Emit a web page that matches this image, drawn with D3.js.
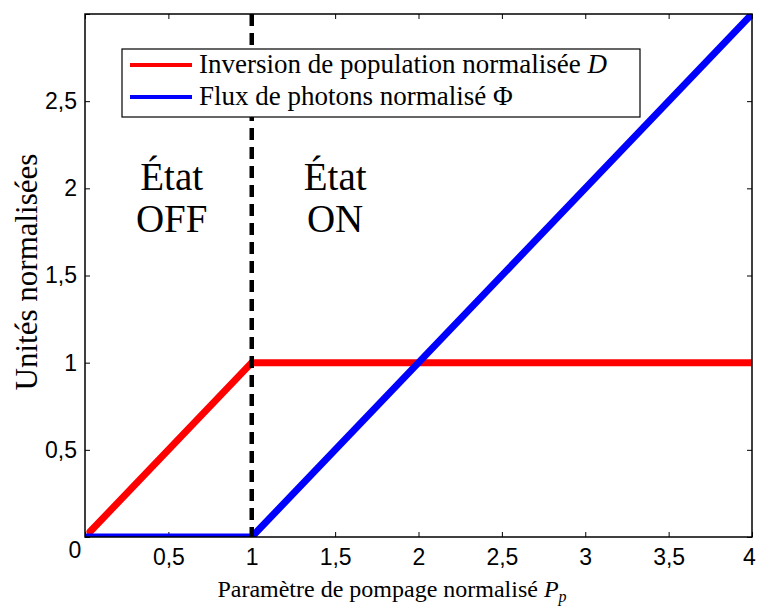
<!DOCTYPE html>
<html>
<head>
<meta charset="utf-8">
<script src="https://cdn.jsdelivr.net/npm/d3@7"></script>
<style>
  body { margin: 0; background: #fff; }
  text { font-family: "Liberation Serif", serif; }
  .tick text { font-family: "Liberation Sans", Arial, sans-serif; font-size: 23px; fill: #000; }
</style>
</head>
<body>
<svg id="chart" width="757" height="606"></svg>
<script>
// data
var pumpX = [0.03, 1, 4];
var inversionD = [0.03, 1, 1];
var fluxX = [0, 1, 4];
var fluxPhi = [0, 0, 3];
var xTicks = [0, 0.5, 1, 1.5, 2, 2.5, 3, 3.5, 4];
var yTicks = [0, 0.5, 1, 1.5, 2, 2.5, 3];
var threshold = 1;

var margin = { left: 85, top: 14, right: 5, bottom: 69 };
var width = 757 - margin.left - margin.right;
var height = 606 - margin.top - margin.bottom;

var svg = d3.select('#chart');
var g = svg.append('g').attr('transform', 'translate(' + margin.left + ',' + margin.top + ')');

var x = d3.scaleLinear().domain([0, 4]).range([0, width]);
var y = d3.scaleLinear().domain([0, 3]).range([height, 0]);

var fmt = function(d) { return String(d).replace('.', ','); };

g.append('defs').append('clipPath').attr('id', 'clip')
  .append('rect').attr('width', width).attr('height', height);

// axes, ticks inward like matlab
var xAxis = g.append('g').attr('transform', 'translate(0,' + height + ')')
  .call(d3.axisBottom(x).tickValues(xTicks).tickSize(-5).tickPadding(12).tickFormat(function(d) { return d === 0 ? '' : fmt(d); }));
// last label hugs the window edge
xAxis.selectAll('.tick text').filter(function(d) { return d === 4; }).attr('dx', -3);
g.append('g')
  .call(d3.axisLeft(y).tickValues(yTicks).tickSize(-5).tickPadding(8).tickFormat(function(d) { return (d === 3 || d === 0) ? '' : fmt(d); }));
g.append('g').call(d3.axisTop(x).tickValues(xTicks).tickSize(-5).tickFormat(''));
g.append('g').attr('transform', 'translate(' + width + ',0)')
  .call(d3.axisRight(y).tickValues(yTicks).tickSize(-5).tickFormat(''));
g.selectAll('.domain').remove();
g.selectAll('.tick line').attr('stroke', '#000').attr('stroke-width', 1);

// the zero label sits at the corner
g.append('text').attr('x', -10).attr('y', height + 21)
  .attr('text-anchor', 'middle')
  .style('font-family', '"Liberation Sans", Arial, sans-serif').style('font-size', '23px')
  .text('0');

var line = d3.line().x(function(d) { return x(d[0]); }).y(function(d) { return y(d[1]); });

var plot = g.append('g').attr('clip-path', 'url(#clip)');

plot.append('path')
  .datum(d3.zip(pumpX, inversionD))
  .attr('d', line)
  .attr('fill', 'none').attr('stroke', '#ff0000').attr('stroke-width', 7)
  .attr('stroke-linecap', 'round').attr('stroke-linejoin', 'round');

plot.append('path')
  .datum(d3.zip(fluxX, fluxPhi))
  .attr('d', line)
  .attr('fill', 'none').attr('stroke', '#0000ff').attr('stroke-width', 7)
  .attr('stroke-linecap', 'round').attr('stroke-linejoin', 'round');

plot.append('line')
  .attr('x1', x(threshold)).attr('x2', x(threshold))
  .attr('y1', 0).attr('y2', height)
  .attr('stroke', '#000').attr('stroke-width', 4.5)
  .attr('stroke-dasharray', '12,7');

// box
g.append('rect').attr('width', width).attr('height', height)
  .attr('fill', 'none').attr('stroke', '#000').attr('stroke-width', 1.5);

// state labels
var states = [
  { cx: 0.52, lines: ['État', 'OFF'] },
  { cx: 1.5, lines: ['État', 'ON'] }
];
states.forEach(function(s) {
  s.lines.forEach(function(t, i) {
    g.append('text')
      .attr('x', x(s.cx)).attr('y', 176 + i * 42)
      .attr('text-anchor', 'middle')
      .style('font-size', '39px')
      .text(t);
  });
});

// legend
var legend = g.append('g').attr('transform', 'translate(' + (122 - margin.left) + ',' + (49 - margin.top) + ')');
legend.append('rect').attr('width', 518).attr('height', 68)
  .attr('fill', '#fff').attr('stroke', '#000').attr('stroke-width', 1.2);
var items = [
  { color: '#ff0000', label: 'Inversion de population normalisée ', sym: 'D', italic: true },
  { color: '#0000ff', label: 'Flux de photons normalisé ', sym: 'Φ', italic: false }
];
items.forEach(function(it, i) {
  var yy = 16 + i * 32;
  legend.append('line').attr('x1', 8).attr('x2', 70).attr('y1', yy).attr('y2', yy)
    .attr('stroke', it.color).attr('stroke-width', 4);
  var t = legend.append('text').attr('x', 77).attr('y', yy + 8).style('font-size', '27px');
  t.append('tspan').text(it.label);
  t.append('tspan').style('font-style', it.italic ? 'italic' : 'normal').text(it.sym);
});

// axis titles
var xl = svg.append('text')
  .attr('x', 392).attr('y', 597)
  .attr('text-anchor', 'middle').style('font-size', '24px');
xl.append('tspan').text('Paramètre de pompage normalisé ');
xl.append('tspan').style('font-style', 'italic').text('P');
xl.append('tspan').style('font-style', 'italic').style('font-size', '16px').attr('dy', 5).text('p');

svg.append('text')
  .attr('transform', 'translate(37,272) rotate(-90)')
  .attr('text-anchor', 'middle').style('font-size', '31px')
  .text('Unités normalisées');
</script>
</body>
</html>
